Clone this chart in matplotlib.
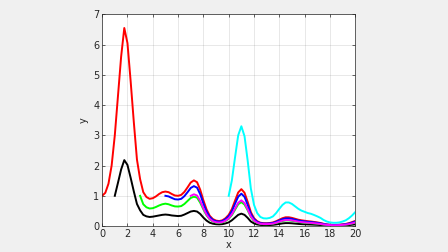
import numpy as np
import matplotlib
matplotlib.use("Agg")
import matplotlib.pyplot as plt

x_all = np.arange(0, 20.001, 0.25)

y_red = [1.00, 1.10, 1.40, 2.00, 3.00, 4.30, 5.60, 6.55, 6.05, 4.80, 3.45, 2.20,
         1.55, 1.12, 0.96, 0.90, 0.92, 0.98, 1.06, 1.12, 1.14, 1.12, 1.06, 1.01,
         1.00, 1.03, 1.13, 1.28, 1.44, 1.51, 1.45, 1.20, 0.85, 0.55, 0.34, 0.23,
         0.18, 0.165, 0.19, 0.26, 0.37, 0.56, 0.84, 1.11, 1.22, 1.10, 0.80, 0.46,
         0.26, 0.16, 0.11, 0.095, 0.093, 0.10, 0.12, 0.16, 0.21, 0.26, 0.29, 0.29,
         0.27, 0.24, 0.21, 0.19, 0.175, 0.16, 0.15, 0.135, 0.12, 0.10, 0.075, 0.055,
         0.045, 0.04, 0.04, 0.045, 0.055, 0.07, 0.095, 0.13, 0.17]

y_black = [1.00, 1.43, 1.87, 2.18, 2.02, 1.60, 1.15, 0.73, 0.52, 0.37, 0.32, 0.30,
           0.31, 0.33, 0.35, 0.37, 0.38, 0.37, 0.35, 0.34, 0.33, 0.34, 0.38, 0.43,
           0.48, 0.50, 0.48, 0.40, 0.28, 0.18, 0.11, 0.077, 0.06, 0.055, 0.063, 0.087,
           0.12, 0.19, 0.28, 0.37, 0.41, 0.37, 0.27, 0.15, 0.087, 0.053, 0.037, 0.032,
           0.031, 0.033, 0.04, 0.053, 0.07, 0.087, 0.097, 0.097, 0.09, 0.08, 0.07, 0.063,
           0.058, 0.053, 0.05, 0.045, 0.04, 0.033, 0.025, 0.018, 0.015, 0.013, 0.013,
           0.015, 0.018, 0.023, 0.032, 0.043, 0.057]

y_green = [1.00, 0.72, 0.62, 0.58, 0.59, 0.63, 0.68, 0.72, 0.74, 0.72, 0.68, 0.65,
           0.645, 0.66, 0.73, 0.83, 0.93, 0.97, 0.94, 0.77, 0.55, 0.355, 0.22, 0.15,
           0.116, 0.106, 0.123, 0.168, 0.24, 0.36, 0.54, 0.72, 0.79, 0.71, 0.52, 0.30,
           0.168, 0.103, 0.071, 0.061, 0.06, 0.065, 0.077, 0.103, 0.135, 0.168, 0.187,
           0.187, 0.174, 0.155, 0.135, 0.123, 0.113, 0.103, 0.097, 0.087, 0.077, 0.065,
           0.048, 0.035, 0.029, 0.026, 0.026, 0.029, 0.035, 0.045, 0.061, 0.084, 0.11]

y_blue = [1.00, 0.98, 0.93, 0.886, 0.877, 0.90, 0.99, 1.12, 1.26, 1.32, 1.27, 1.05,
          0.745, 0.48, 0.30, 0.20, 0.158, 0.145, 0.167, 0.228, 0.325, 0.49, 0.74, 0.97,
          1.07, 0.965, 0.70, 0.40, 0.228, 0.14, 0.096, 0.083, 0.082, 0.088, 0.105, 0.14,
          0.184, 0.228, 0.254, 0.254, 0.237, 0.21, 0.184, 0.167, 0.153, 0.14, 0.132,
          0.118, 0.105, 0.088, 0.066, 0.048, 0.039, 0.035, 0.035, 0.039, 0.048, 0.061,
          0.083, 0.114, 0.149]

y_magenta = [1.00, 1.05, 1.01, 0.83, 0.59, 0.38, 0.236, 0.16, 0.125, 0.115, 0.132,
             0.18, 0.257, 0.39, 0.58, 0.77, 0.85, 0.76, 0.555, 0.32, 0.18, 0.111, 0.076,
             0.066, 0.065, 0.069, 0.083, 0.111, 0.146, 0.18, 0.20, 0.20, 0.187, 0.167,
             0.146, 0.132, 0.121, 0.111, 0.104, 0.094, 0.083, 0.069, 0.052, 0.038, 0.031,
             0.028, 0.028, 0.031, 0.038, 0.049, 0.066, 0.09, 0.118]

y_cyan = [1.00, 1.51, 2.27, 3.00, 3.30, 2.97, 2.16, 1.24, 0.70, 0.43, 0.30, 0.256,
          0.25, 0.27, 0.32, 0.43, 0.57, 0.70, 0.78, 0.78, 0.73, 0.65, 0.57, 0.51, 0.47,
          0.43, 0.405, 0.365, 0.32, 0.27, 0.20, 0.15, 0.12, 0.108, 0.108, 0.12, 0.15,
          0.19, 0.26, 0.35, 0.46]

# starting x of each curve
starts = [0, 1, 3, 5, 7, 10]
curves = [y_red, y_black, y_green, y_blue, y_magenta, y_cyan]
colors = ["#ff0000", "#000000", "#00ff00", "#0000ff", "#ff00ff", "#00ffff"]

fig = plt.figure(figsize=(4.48, 2.52), dpi=100, facecolor="#f0f0f0")
ax = fig.add_axes([0.228, 0.103, 0.565, 0.84])
ax.set_facecolor("white")

for x0, yy, c in zip(starts, curves, colors):
    xx = x_all[x_all >= x0 - 1e-9]
    ax.plot(xx, yy, color=c, lw=1.4, solid_joinstyle="round")

ax.set_xlim(0, 20)
ax.set_ylim(0, 7)
ax.set_xticks(np.arange(0, 21, 2))
ax.set_yticks(np.arange(0, 8, 1))
ax.grid(True, color="#262626", alpha=0.12, lw=0.6)
ax.tick_params(direction="in", length=2.5, width=0.5, labelsize=7,
               colors="#262626", top=True, right=True, pad=2)
for s in ax.spines.values():
    s.set_color("#262626")
    s.set_linewidth(0.5)
ax.set_xlabel("x", fontsize=7, color="#262626", labelpad=1)
ax.set_ylabel("y", fontsize=7, color="#262626", labelpad=3)

fig.savefig("out.png", dpi=100, facecolor=fig.get_facecolor())
